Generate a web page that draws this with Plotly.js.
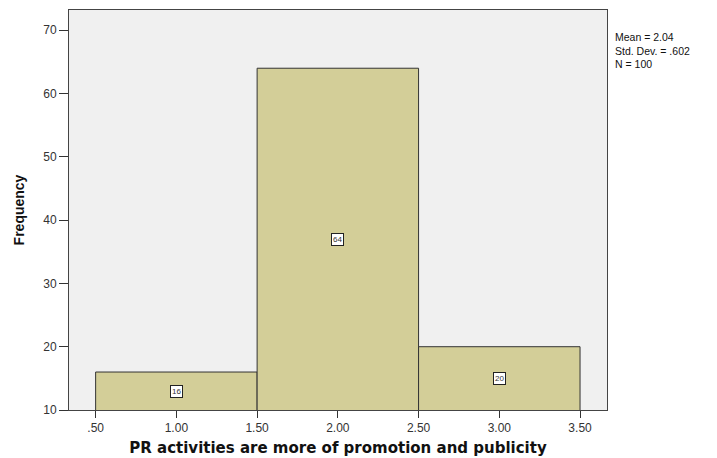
<!DOCTYPE html>
<html>
<head>
<meta charset="utf-8">
<script src="https://cdn.plot.ly/plotly-3.0.1.min.js"></script>
<style>html,body{margin:0;padding:0;background:#fff;}#chart{width:717px;height:458px;}</style>
</head>
<body>
<div id="chart"></div>
<script>
var binCenters = [1, 2, 3];
var frequencies = [16, 64, 20];
var xTickVals = [0.5, 1, 1.5, 2, 2.5, 3, 3.5];
var xTickText = ['.50', '1.00', '1.50', '2.00', '2.50', '3.00', '3.50'];
var yTickVals = [10, 20, 30, 40, 50, 60, 70];
var statsLines = ['Mean = 2.04', 'Std. Dev. = .602', 'N = 100'];
var xTitle = 'PR activities are more of promotion and publicity';
var yTitle = 'Frequency';

var yMin = 10;

var trace = {
  type: 'bar',
  x: binCenters,
  y: frequencies,
  width: 1,
  marker: {color: '#D3CE98', line: {color: '#333333', width: 1}},
  hoverinfo: 'none'
};

var annotations = binCenters.map(function (c, i) {
  return {
    x: c, y: (yMin + frequencies[i]) / 2, xref: 'x', yref: 'y',
    text: String(frequencies[i]), showarrow: false,
    font: {family: 'Liberation Sans, Arial, sans-serif', size: 8, color: '#333'},
    bgcolor: '#ffffff', bordercolor: '#222222', borderwidth: 1, borderpad: 1
  };
});
annotations.push({
  xref: 'paper', yref: 'paper', x: 1.013, y: 0.95, xanchor: 'left', yanchor: 'top',
  align: 'left', showarrow: false, borderpad: 0,
  text: statsLines.join('<br>'),
  font: {family: 'Liberation Sans, Arial, sans-serif', size: 10.5, color: '#111'}
});

var layout = {
  width: 717, height: 458,
  margin: {l: 69, r: 110, t: 10, b: 48},
  paper_bgcolor: '#ffffff',
  plot_bgcolor: '#F0F0F0',
  showlegend: false,
  bargap: 0,
  font: {family: 'Liberation Sans, Arial, sans-serif', size: 12, color: '#333'},
  xaxis: {
    range: [0.335, 3.667],
    tickvals: xTickVals, ticktext: xTickText,
    ticks: 'outside', ticklen: 7, tickcolor: '#333', tickwidth: 1,
    showline: true, mirror: true, linecolor: '#444', linewidth: 1,
    showgrid: false, zeroline: false,
    tickfont: {size: 12, color: '#333'},
    title: {text: xTitle, font: {size: 15, color: '#111', family: 'DejaVu Sans, Verdana, sans-serif', weight: 'bold'}, standoff: 8}
  },
  yaxis: {
    range: [10, 73.2],
    tickvals: yTickVals,
    ticks: 'outside', ticklen: 9, tickcolor: '#333', tickwidth: 1,
    showline: true, mirror: true, linecolor: '#444', linewidth: 1,
    showgrid: false, zeroline: false,
    tickfont: {size: 12, color: '#333'},
    title: {text: yTitle, font: {size: 14, color: '#111', family: 'Liberation Sans Narrow, Arial Narrow, sans-serif', weight: 'bold'}, standoff: 15}
  },
  annotations: annotations
};

Plotly.newPlot('chart', [trace], layout, {displayModeBar: false, staticPlot: true});
</script>
</body>
</html>
